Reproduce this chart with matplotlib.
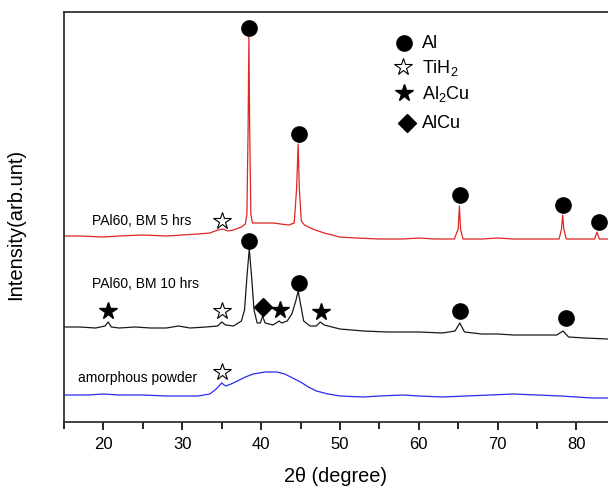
import matplotlib
matplotlib.use("Agg")
import matplotlib.pyplot as plt
from matplotlib.ticker import MultipleLocator

plt.rcParams['font.family'] = ['Liberation Sans', 'DejaVu Sans']
plt.rcParams['mathtext.fontset'] = 'custom'
plt.rcParams['mathtext.rm'] = 'Liberation Sans'

# ---- data (2theta in degrees, intensity in arbitrary units) ----
red_x = [15, 17, 20, 22, 25, 28, 30, 32, 33.5, 34.5, 35.2, 35.8, 36.5, 37.5, 38.0, 38.2, 38.35, 38.45,
         38.55, 38.7, 38.9, 39.5, 40.5, 41.5, 42.5, 43.5, 44.2, 44.5, 44.7, 44.85, 45.1, 45.5, 46.5, 48,
         50, 52, 55, 58, 60, 62, 64.5, 65.0, 65.15, 65.3, 65.6, 68, 70, 72, 75, 77.8, 78.1, 78.25, 78.4,
         78.7, 80, 82.3, 82.6, 82.9, 84]
red_y = [186, 186, 185, 186, 187, 186, 187, 188, 189, 192, 193, 191, 192, 195, 198, 208, 293, 386,
         293, 208, 199, 199, 199, 199, 198, 197, 199, 233, 278, 233, 201, 197, 193, 189,
         185, 184, 183, 183, 184, 183, 183, 193, 216, 193, 183, 183, 184, 183, 183, 183, 193, 207, 193,
         183, 183, 183, 190, 183, 183]

black_x = [15, 17, 19, 20.2, 20.6, 21.0, 22, 24, 26, 28, 29.5, 31, 33, 34.5, 35.0, 35.5, 36.5, 37.5,
           37.9, 38.2, 38.5, 38.8, 39.1, 39.5, 39.9, 40.2, 40.5, 41.5, 42.3, 42.6, 43.3, 43.9, 44.4,
           44.7, 45.0, 45.4, 46.2, 47.0, 47.5, 48, 50, 53, 56, 60, 63, 64.6, 65.2, 65.8, 68, 70, 72,
           75, 77.5, 78.3, 79, 81, 84]
black_y = [95, 95, 94, 96, 100, 95, 94, 95, 94, 94, 96, 94, 95, 96, 100, 97, 96, 101,
           112, 145, 173, 145, 112, 99, 99, 106, 99, 97, 101, 99, 101, 108, 121,
           131, 118, 101, 96, 96, 100, 97, 93, 91, 90, 90, 89, 91, 99, 90, 88, 88, 87,
           87, 87, 91, 85, 84, 83]

blue_x = [15, 18, 20, 22, 25, 28, 30, 32, 33.5, 34.3, 35.0, 35.5, 36.2, 37, 38, 39, 40.5, 42, 43,
          44, 45, 46, 47, 48.5, 50, 53, 55, 58, 60, 63, 66, 69, 72, 75, 78, 80, 82, 84]
blue_y = [27, 27, 28, 27, 27, 26, 26, 26, 28, 33, 39, 36, 38, 41, 45, 48, 50, 50, 48,
          44, 40, 35, 31, 28, 26, 25, 26, 27, 26, 25, 26, 27, 28, 27, 26, 25, 24, 24]

# phase markers
al_x = [38.46, 44.81, 65.23, 78.29, 82.86, 38.46, 44.81, 65.23, 78.67]
al_y = [394, 288, 227, 217, 200, 181, 139, 111, 104]
tih2_x = [35.04, 35.04, 35.04]
tih2_y = [201, 111, 50]
al2cu_x = [20.58, 42.40, 47.60]
al2cu_y = [111, 112, 110]
alcu_x = [40.24]
alcu_y = [115]

# legend (marker key)
key_labels = ['Al', 'TiH$_2$', 'Al$_2$Cu', 'AlCu']
key_x = [58.1, 58.0, 58.1, 58.5]
key_y = [379, 355, 329, 299]
key_text_x = 60.4

# curve labels
curve_labels = ['PAl60, BM 5 hrs', 'PAl60, BM 10 hrs', 'amorphous powder']
curve_label_x = [18.55, 18.55, 16.8]
curve_label_y = [202, 139, 45]

fig = plt.figure(figsize=(6.08, 4.89), dpi=100)
ax = fig.add_axes([64/608, 66/489, 544/608, 410/489])

ax.plot(red_x, red_y, color='#e02525', lw=0.9)
ax.plot(black_x, black_y, color='#1a1a1a', lw=0.9)
ax.plot(blue_x, blue_y, color='#2b2bf0', lw=0.9)

circ = dict(marker='o', ms=11, color='black', ls='none')
star_open = dict(marker='*', ms=13, mfc='white', mec='black', mew=0.8, ls='none')
star_full = dict(marker='*', ms=13, color='black', ls='none')
diam = dict(marker='D', ms=9.5, color='black', ls='none')

ax.plot(al_x, al_y, **circ)
ax.plot(tih2_x, tih2_y, **star_open)
ax.plot(al2cu_x, al2cu_y, **star_full)
ax.plot(alcu_x, alcu_y, **diam)

styles = [circ, star_open, star_full, diam]
for lx, ly, st, lab in zip(key_x, key_y, styles, key_labels):
    ax.plot([lx], [ly], **st)
    ax.text(key_text_x, ly, lab, fontsize=13, va='center', ha='left')

for t, x, y in zip(curve_labels, curve_label_x, curve_label_y):
    ax.text(x, y, t, fontsize=10, va='center', ha='left')

ax.set_xlim(15, 84)
ax.set_ylim(0, 410)
ax.set_yticks([])
ax.xaxis.set_major_locator(MultipleLocator(10))
ax.xaxis.set_minor_locator(MultipleLocator(5))
ax.tick_params(axis='x', which='major', direction='out', length=6, width=1.2, labelsize=12, pad=4)
ax.tick_params(axis='x', which='minor', direction='out', length=5, width=1.2)
for s in ['left', 'bottom', 'top']:
    ax.spines[s].set_linewidth(1.3)
    ax.spines[s].set_color('#333333')
ax.spines['right'].set_visible(False)

ax.set_xlabel('2θ (degree)', fontsize=14.3, labelpad=11)
ax.set_ylabel('Intensity(arb.unt)', fontsize=14.5, labelpad=21)
ax.yaxis.set_label_coords(-(64 - 25) / 544, (423 - 224) / 410)

fig.savefig('out.png', dpi=100)
